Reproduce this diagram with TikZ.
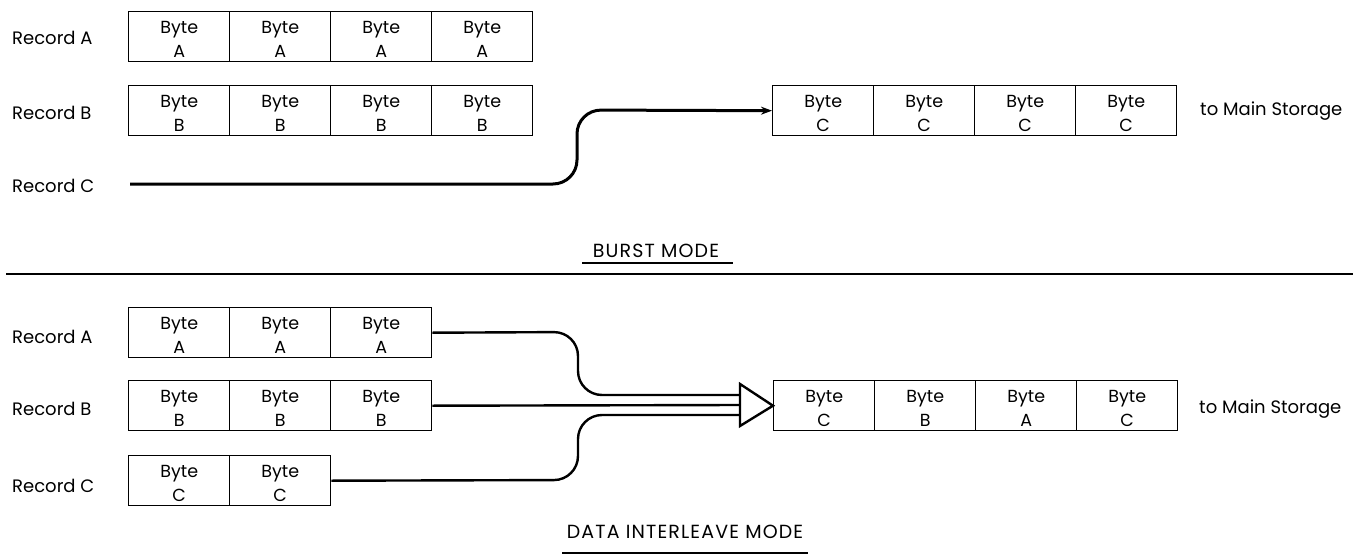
\documentclass[tikz,border=0pt]{standalone}
\usepackage{fontspec}
\setmainfont{Poppins}
\newfontfamily\ttlfont[LetterSpace=6]{Poppins}
\usetikzlibrary{arrows.meta}
\begin{document}
\begin{tikzpicture}[x=1pt,y=-1pt,
  cell/.style={draw,line width=1.4pt,minimum width=101pt,minimum height=50pt,inner sep=0pt,text height=46pt,text depth=4pt,anchor=north west,align=center,font=\fontsize{17.5}{24}\selectfont},
  lbl/.style={anchor=base west,inner sep=0pt,font=\fontsize{18}{20}\selectfont},
  title/.style={anchor=base,inner sep=0pt,font=\ttlfont\fontsize{19}{22}\selectfont},
  conn/.style={line width=2.4pt,rounded corners=24pt},
  rule/.style={line width=1.6pt},
]
\useasboundingbox (0,0) rectangle (1353,554);

% ---------- Burst mode ----------
\node[lbl] (ta) at (12,45) {Record A};
\node[lbl] (tb) at (12,119) {Record B};
\node[lbl] (tc) at (12,192) {Record C};

\node[cell] (ta1) at (128,11) {Byte\\A};
\node[cell] (ta2) at (229,11) {Byte\\A};
\node[cell] (ta3) at (330,11) {Byte\\A};
\node[cell] (ta4) at (431,11) {Byte\\A};

\node[cell] (tb1) at (128,85) {Byte\\B};
\node[cell] (tb2) at (229,85) {Byte\\B};
\node[cell] (tb3) at (330,85) {Byte\\B};
\node[cell] (tb4) at (431,85) {Byte\\B};

\node[cell] (ts1) at (772,85) {Byte\\C};
\node[cell] (ts2) at (873,85) {Byte\\C};
\node[cell] (ts3) at (974,85) {Byte\\C};
\node[cell] (ts4) at (1075,85) {Byte\\C};
\node[lbl] (tms) at (1200,115) {to Main Storage};

\coordinate (rc) at (130,184);
\draw[conn,line width=3pt,-{Stealth[length=11pt,width=8pt]}] (rc) -- (577,184) -- (577,110) -- (ts1.west);

\node[title] (burst) at (656,257) {BURST MODE};
\coordinate (bu1) at (582,263);
\coordinate (bu2) at (733,263);
\draw[rule] (bu1) -- (bu2);

\coordinate (sep1) at (6,274);
\coordinate (sep2) at (1353,274);
\draw[rule] (sep1) -- (sep2);

% ---------- Data interleave mode ----------
\node[lbl] (ba) at (12,343) {Record A};
\node[lbl] (bb) at (12,415) {Record B};
\node[lbl] (bc) at (12,492) {Record C};

\node[cell] (ba1) at (128,307) {Byte\\A};
\node[cell] (ba2) at (229,307) {Byte\\A};
\node[cell] (ba3) at (330,307) {Byte\\A};

\node[cell] (bb1) at (128,380) {Byte\\B};
\node[cell] (bb2) at (229,380) {Byte\\B};
\node[cell] (bb3) at (330,380) {Byte\\B};

\node[cell] (bc1) at (128,455) {Byte\\C};
\node[cell] (bc2) at (229,455) {Byte\\C};

\node[cell] (bs1) at (773,380) {Byte\\C};
\node[cell] (bs2) at (874,380) {Byte\\B};
\node[cell] (bs3) at (975,380) {Byte\\A};
\node[cell] (bs4) at (1076,380) {Byte\\C};
\node[lbl] (bms) at (1199,413) {to Main Storage};

\coordinate (inA) at (740,395);
\coordinate (inB) at (740,405);
\coordinate (inC) at (740,415);
\coordinate (trT) at (740,384);
\coordinate (trB) at (740,426);

\draw[conn] (ba3.east) -- (578,332) -- (578,395) -- (inA);
\draw[conn] (bb3.east) -- (inB);
\draw[conn] (bc2.east) -- (578,480) -- (578,415) -- (inC);

\draw[line width=2.4pt,fill=white,line join=miter] (trT) -- (bs1.west) -- (trB) -- cycle;

\node[title] (dim) at (685,538) {DATA INTERLEAVE MODE};
\coordinate (du1) at (562,553);
\coordinate (du2) at (808,553);
\draw[rule] (du1) -- (du2);
\end{tikzpicture}
\end{document}
